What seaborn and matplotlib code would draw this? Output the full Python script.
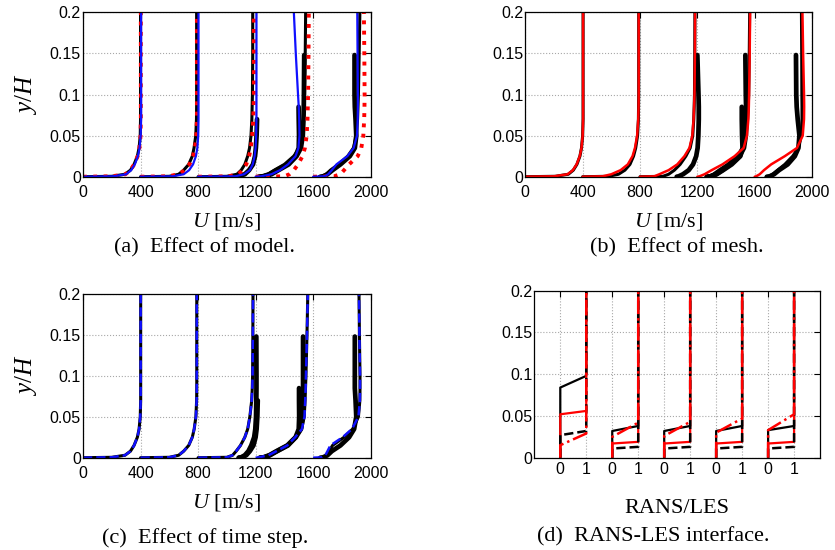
import numpy as np
import pandas as pd
import matplotlib
matplotlib.use("Agg")
import matplotlib.pyplot as plt
import seaborn as sns

nan = np.nan

# ---------------- data ----------------
Y = [0, 0.0005, 0.003, 0.008, 0.015, 0.025, 0.035, 0.05, 0.07, 0.085, 0.1, 0.148, 0.2]
STATIONS = ["s1", "s2", "s3", "s4", "s5"]

X_TICKS = [0, 400, 800, 1200, 1600, 2000]
Y_TICKS = [0, 0.05, 0.1, 0.15, 0.2]
Y_TICK_LABELS = ["0", "0.05", "0.1", "0.15", "0.2"]

# (a) effect of model
A_BLACK = [
    [0, 200, 292, 330, 355, 378, 390, 398, 400, 400, 400, 400, 400],
    [400, 600, 665, 700, 735, 760, 772, 784, 789, 790, 790, 790, 790],
    [800, 1000, 1070, 1100, 1125, 1145, 1158, 1168, 1174, 1176, 1178, 1180, 1180],
    [1210, 1240, 1285, 1330, 1400, 1465, 1505, 1525, 1533, 1537, 1540, 1545, 1548],
    [1640, 1660, 1690, 1720, 1775, 1840, 1880, 1900, 1909, 1912, 1915, 1920, 1925],
]
A_BLACK_2 = [
    [nan] * 13,
    [nan] * 13,
    [1050, 1080, 1125, 1155, 1182, 1196, 1202, 1207, 1210, nan, nan, nan, nan],
    [1230, 1260, 1310, 1360, 1430, 1485, 1515, 1528, 1533, 1535, 1536, 1538, nan],
    [1650, 1670, 1700, 1735, 1790, 1855, 1890, 1900, 1895, 1890, 1888, 1888, nan],
]
A_BLACK_3 = [
    [nan] * 13,
    [nan] * 13,
    [nan] * 13,
    [1220, 1250, 1295, 1345, 1420, 1478, 1500, 1502, 1500, 1499, nan, nan, nan],
    [nan] * 13,
]
A_RED = [
    [0, 200, 295, 330, 356, 380, 392, 400, 402, 402, 402, 402, 402],
    [400, 590, 670, 705, 740, 765, 778, 788, 792, 792, 792, 792, 792],
    [800, 1010, 1080, 1110, 1135, 1155, 1167, 1176, 1184, 1186, 1188, 1188, 1188],
    [1200, 1400, 1435, 1466, 1495, 1526, 1543, 1555, 1561, 1563, 1565, 1568, 1570],
    [1600, 1745, 1790, 1815, 1850, 1910, 1935, 1949, 1955, 1957, 1958, 1956, 1953],
]
A_BLUE = [
    [0, 210, 300, 335, 360, 382, 393, 401, 404, 404, 404, 404, 404],
    [400, 625, 700, 738, 765, 785, 795, 801, 803, 803, 803, 803, 803],
    [800, 1060, 1120, 1160, 1180, 1193, 1200, 1204, 1206, 1206, 1206, 1206, 1206],
    [1200, 1240, 1310, 1370, 1425, 1478, 1498, 1505, 1503, 1500, 1495, 1480, 1466],
    [1600, 1680, 1705, 1730, 1762, 1838, 1882, 1905, 1910, 1911, 1911, 1909, 1907],
]

# (b) effect of mesh
B_BLACK = [
    [0, 210, 300, 335, 360, 381, 392, 400, 403, 403, 403, 403, 403],
    [400, 580, 650, 695, 730, 755, 770, 783, 789, 790, 791, 791, 791],
    [800, 960, 1000, 1040, 1080, 1120, 1150, 1168, 1175, 1178, 1180, 1182, 1183],
    [1260, 1280, 1310, 1350, 1410, 1475, 1515, 1540, 1550, 1555, 1558, 1562, 1565],
    [1680, 1700, 1725, 1760, 1810, 1865, 1905, 1925, 1930, 1930, 1929, 1928, 1926],
]
B_BLACK_2 = [
    [nan] * 13,
    [nan] * 13,
    [1056, 1070, 1100, 1140, 1170, 1192, 1202, 1207, 1210, 1210, 1208, 1200, nan],
    [1266, 1290, 1330, 1375, 1430, 1495, 1525, 1538, 1540, 1540, 1538, 1535, nan],
    [1685, 1705, 1735, 1770, 1830, 1880, 1905, 1912, 1900, 1893, 1890, 1888, nan],
]
B_BLACK_3 = [
    [nan] * 13,
    [nan] * 13,
    [nan] * 13,
    [1270, 1295, 1335, 1380, 1440, 1500, 1515, 1512, 1510, 1510, nan, nan, nan],
    [nan] * 13,
]
B_RED = [
    [0, 200, 295, 332, 358, 380, 392, 400, 403, 403, 403, 403, 403],
    [400, 540, 600, 665, 715, 748, 765, 780, 788, 790, 791, 791, 791],
    [800, 900, 935, 1000, 1060, 1110, 1145, 1165, 1174, 1177, 1180, 1183, 1184],
    [1200, 1215, 1250, 1300, 1375, 1460, 1523, 1546, 1556, 1559, 1561, 1565, 1568],
    [1600, 1610, 1635, 1665, 1715, 1810, 1895, 1935, 1944, 1945, 1944, 1938, 1933],
]

# (c) effect of time step
C_BLACK = [
    [0, 200, 292, 330, 355, 378, 390, 398, 401, 401, 401, 401, 401],
    [400, 600, 665, 700, 735, 760, 773, 785, 790, 791, 791, 791, 791],
    [800, 1000, 1040, 1065, 1095, 1125, 1145, 1160, 1173, 1177, 1179, 1181, 1182],
    [1220, 1240, 1300, 1355, 1430, 1480, 1520, 1538, 1544, 1547, 1550, 1557, 1563],
    [1650, 1670, 1695, 1712, 1735, 1815, 1875, 1915, 1925, 1926, 1926, 1922, 1919],
]
C_BLACK_2 = [
    [nan] * 13,
    [nan] * 13,
    [1082, 1100, 1125, 1150, 1170, 1190, 1198, 1203, 1205, 1206, 1206, 1205, nan],
    [1230, 1260, 1300, 1350, 1425, 1480, 1515, 1528, 1530, 1530, 1530, 1530, nan],
    [1650, 1670, 1700, 1730, 1790, 1850, 1885, 1900, 1895, 1890, 1890, 1890, nan],
]
C_BLACK_3 = [
    [nan] * 13,
    [nan] * 13,
    [1085, 1105, 1135, 1160, 1185, 1200, 1207, 1212, 1215, nan, nan, nan, nan],
    [1230, 1255, 1295, 1345, 1420, 1478, 1500, 1503, 1502, 1502, nan, nan, nan],
    [nan] * 13,
]
C_BLUE = [
    [0, 200, 292, 330, 355, 378, 390, 398, 401, 401, 401, 401, 401],
    [400, 600, 665, 700, 735, 760, 773, 785, 790, 791, 791, 791, 791],
    [800, 1000, 1040, 1065, 1095, 1125, 1145, 1160, 1173, 1177, 1179, 1181, 1182],
    [1200, 1225, 1290, 1345, 1420, 1475, 1522, 1540, 1545, 1548, 1550, 1557, 1563],
    [1600, 1660, 1685, 1700, 1720, 1805, 1870, 1915, 1925, 1926, 1926, 1922, 1919],
]

# (d) RANS-LES interface: indicator goes 0 -> 1 between y_lo and y_hi
D_OFFSETS = [0, 2, 4, 6, 8]
D_TICKS = [0, 1, 2, 3, 4, 5, 6, 7, 8, 9]
D_TICK_LABELS = ["0", "1", "0", "1", "0", "1", "0", "1", "0", "1"]
D_BLACK_SOLID_LO = [0.084, 0.032, 0.032, 0.032, 0.033]
D_BLACK_SOLID_HI = [0.098, 0.038, 0.038, 0.038, 0.038]
D_RED_SOLID_LO = [0.052, 0.017, 0.017, 0.017, 0.017]
D_RED_SOLID_HI = [0.056, 0.019, 0.019, 0.019, 0.019]
D_BLACK_DASH_LO = [0.027, 0.011, 0.011, 0.011, 0.011]
D_BLACK_DASH_HI = [0.032, 0.013, 0.013, 0.013, 0.013]
D_RED_DASHDOT_LO = [0.015, 0.025, 0.026, 0.030, 0.033]
D_RED_DASHDOT_HI = [0.029, 0.042, 0.043, 0.047, 0.052]
Y_TOP = 0.2


def profiles_df(profiles):
    rows = []
    for st, us in zip(STATIONS, profiles):
        for u, y in zip(us, Y):
            if not np.isnan(u):
                rows.append({"U": u, "y": y, "station": st})
    return pd.DataFrame(rows)


def interface_df(lo, hi):
    rows = []
    for st, off, a, b in zip(STATIONS, D_OFFSETS, lo, hi):
        for x, y in [(off, 0.0), (off, a), (off + 1, b), (off + 1, Y_TOP)]:
            rows.append({"U": x, "y": y, "station": st})
    return pd.DataFrame(rows)


def draw(ax, df, color, ls, lw):
    sns.lineplot(data=df, x="U", y="y", units="station", estimator=None,
                 sort=False, color=color, linestyle=ls, linewidth=lw,
                 legend=False, ax=ax)


# ---------------- style ----------------
sns.set_theme(style="white")
plt.rcParams["font.family"] = ["Liberation Sans", "DejaVu Sans"]
plt.rcParams["mathtext.fontset"] = "custom"
plt.rcParams["mathtext.it"] = "Liberation Serif:italic"
plt.rcParams["mathtext.rm"] = "Liberation Serif"
plt.rcParams["text.color"] = "black"
plt.rcParams["axes.labelcolor"] = "black"
plt.rcParams["xtick.color"] = "black"
plt.rcParams["ytick.color"] = "black"

fig = plt.figure(figsize=(8.35, 5.5), dpi=100)
axA = fig.add_axes([0.0994, 0.6787, 0.3445, 0.2989])
axB = fig.add_axes([0.6291, 0.6787, 0.3434, 0.2989])
axC = fig.add_axes([0.0994, 0.1678, 0.3445, 0.2977])
axD = fig.add_axes([0.6399, 0.1678, 0.3422, 0.3037])

BLUE = "#1010ff"
RED = "#ff0000"
BLACK = "#000000"

# (a)
draw(axA, profiles_df(A_BLACK), BLACK, "-", 2.2)
draw(axA, profiles_df(A_BLACK_2), BLACK, "-", 3.4)
draw(axA, profiles_df(A_BLACK_3), BLACK, "-", 3.4)
draw(axA, profiles_df(A_RED), RED, ":", 2.8)
draw(axA, profiles_df(A_BLUE), BLUE, "-", 1.6)

# (b)
draw(axB, profiles_df(B_BLACK), BLACK, "-", 2.2)
draw(axB, profiles_df(B_BLACK_2), BLACK, "-", 3.4)
draw(axB, profiles_df(B_BLACK_3), BLACK, "-", 3.4)
draw(axB, profiles_df(B_RED), RED, "-", 1.8)

# (c)
draw(axC, profiles_df(C_BLACK), BLACK, "-", 2.2)
draw(axC, profiles_df(C_BLACK_2), BLACK, "-", 3.4)
draw(axC, profiles_df(C_BLACK_3), BLACK, "-", 3.4)
draw(axC, profiles_df(C_BLUE), BLUE, "--", 1.8)

# (d)
draw(axD, interface_df(D_BLACK_SOLID_LO, D_BLACK_SOLID_HI), BLACK, "-", 1.6)
draw(axD, interface_df(D_RED_SOLID_LO, D_RED_SOLID_HI), RED, "-", 1.6)
draw(axD, interface_df(D_BLACK_DASH_LO, D_BLACK_DASH_HI), BLACK, "--", 1.8)
draw(axD, interface_df(D_RED_DASHDOT_LO, D_RED_DASHDOT_HI), RED, "-.", 1.8)

for ax in (axA, axB, axC, axD):
    ax.set_ylim(0, 0.2)
    ax.set_yticks(Y_TICKS)
    ax.set_yticklabels(Y_TICK_LABELS)
    ax.grid(True, linestyle=":", color="#a8a8a8", linewidth=0.8)
    ax.tick_params(direction="in", top=True, right=True, length=4, width=0.8,
                   labelsize=11.5, colors="black")
    ax.tick_params(axis="y", pad=1.5)
    for s in ax.spines.values():
        s.set_color("black")
        s.set_linewidth(0.9)
    ax.set_xlabel("")
    ax.set_ylabel("")

for ax in (axA, axB, axC):
    ax.set_xlim(0, 2000)
    ax.set_xticks(X_TICKS)
    ax.set_xticklabels([str(t) for t in X_TICKS])
    ax.tick_params(axis="x", pad=6)
    ax.set_xlabel(r"$U$ [m/s]", fontsize=16, family="Liberation Serif",
                  labelpad=8, color="black")

axD.set_xlim(-1, 10)
axD.set_xticks(D_TICKS)
axD.set_xticklabels(D_TICK_LABELS)
axD.tick_params(axis="x", pad=3)
axD.set_xlabel("RANS/LES", fontsize=16, family="Liberation Serif", labelpad=16,
               color="black")

for ax in (axA, axC):
    ax.set_ylabel(r"$y/H$", fontsize=18, labelpad=8, color="black")

cap_kw = dict(ha="center", va="center", fontsize=16, family="Liberation Serif",
              color="black")
fig.text(205 / 835, 1 - 248 / 550, "(a)  Effect of model.", **cap_kw)
fig.text(677 / 835, 1 - 248 / 550, "(b)  Effect of mesh.", **cap_kw)
fig.text(205 / 835, 1 - 538 / 550, "(c)  Effect of time step.", **cap_kw)
fig.text(653 / 835, 1 - 537 / 550, "(d)  RANS-LES interface.", **cap_kw)

fig.savefig("out.png", dpi=100)
